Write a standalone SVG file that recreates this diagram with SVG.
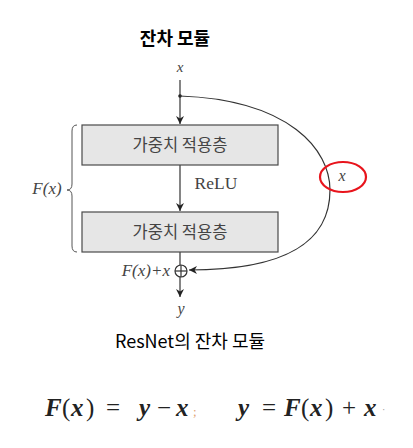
<svg xmlns="http://www.w3.org/2000/svg" width="413" height="448" viewBox="0 0 413 448">
<style>
.box{fill:#e6e6e6;stroke:#4a4a4a;stroke-width:1.2}
.kt{font-family:"Noto Sans CJK KR",serif;font-size:16.5px;fill:#444;text-anchor:middle}
.m{font-family:"Liberation Serif",serif;font-style:italic;fill:#444}
.ln{stroke:#333;stroke-width:1.2;fill:none}
.eq{font-family:"Liberation Serif",serif;font-style:italic;font-weight:bold;font-size:25px;fill:#222}
.op{font-family:"Liberation Serif",serif;font-size:25px;fill:#222}
</style>
<defs>
<marker id="ah" viewBox="0 0 10 10" refX="10" refY="5" markerWidth="8" markerHeight="8" orient="auto" markerUnits="userSpaceOnUse">
<path d="M0,0 L10,5 L0,10 L3,5 z" fill="#222"/>
</marker>
</defs>
<rect width="413" height="448" fill="#fff"/>
<text x="175" y="45" text-anchor="middle" font-family="Noto Sans CJK KR,sans-serif" font-weight="bold" font-size="18" fill="#000">잔차 모듈</text>
<text class="m" x="180" y="72" font-size="15" text-anchor="middle">x</text>
<g id="connectors">
<line class="ln" x1="180" y1="80" x2="180" y2="124" marker-end="url(#ah)"/>
<circle cx="180" cy="96" r="1.8" fill="#222"/>
<line class="ln" x1="180" y1="165" x2="180" y2="211" marker-end="url(#ah)"/>
<line class="ln" x1="180" y1="252" x2="180" y2="297" marker-end="url(#ah)"/>
<path class="ln" d="M180,96 C290,100 330,150 330,190 C330,240 290,270 189,270" marker-end="url(#ah)"/>
</g>
<g id="layer1">
<rect class="box" x="82" y="125" width="196" height="40"/>
<text class="kt" x="180" y="151">가중치 적용층</text>
</g>
<g id="relu"><text x="216" y="189" text-anchor="middle" font-family="Liberation Serif,serif" font-size="17.5" fill="#444">ReLU</text></g>
<g id="layer2">
<rect class="box" x="82" y="212" width="196" height="40"/>
<text class="kt" x="180" y="238">가중치 적용층</text>
</g>
<g id="sum">
<circle cx="181" cy="271" r="6" fill="#fff" stroke="#333" stroke-width="1.2"/>
<line class="ln" x1="175" y1="271" x2="187" y2="271"/>
<line class="ln" x1="181" y1="265" x2="181" y2="277"/>
<text class="m" x="170" y="276" font-size="17" text-anchor="end" font-style="normal"><tspan font-style="italic">F</tspan>(<tspan font-style="italic">x</tspan>)+<tspan font-style="italic">x</tspan></text>
</g>
<text class="m" x="181" y="314" font-size="16" text-anchor="middle">y</text>
<g id="brace">
<path d="M77,125 Q72,125 72,131 L72,184 Q72,190 67,190 Q72,190 72,196 L72,246 Q72,252 77,252" fill="none" stroke="#555" stroke-width="1"/>
<text class="m" x="47" y="194" font-size="17" text-anchor="middle" font-style="normal"><tspan font-style="italic">F</tspan>(<tspan font-style="italic">x</tspan>)</text>
</g>
<g id="xlabel">
<text class="m" x="342" y="181" font-size="16" text-anchor="middle">x</text>
<ellipse cx="343" cy="177" rx="23" ry="15" fill="none" stroke="#e8141c" stroke-width="2.2"/>
</g>
<text x="190" y="348" text-anchor="middle" font-family="Noto Sans CJK KR,sans-serif" font-size="18" fill="#000">ResNet의 잔차 모듈</text>
<g id="eq1">
<text class="eq" x="45" y="416">F</text>
<text class="op" x="62" y="416">(</text>
<text class="eq" x="71" y="416">x</text>
<text class="op" x="86" y="416">)</text>
<text class="op" x="106" y="416">=</text>
<text class="eq" x="139" y="416">y</text>
<text class="op" x="157" y="416">−</text>
<text class="eq" x="176" y="416">x</text>
<text x="193" y="416" font-family="Liberation Serif,serif" font-size="13" fill="#e0a070">;</text>
</g>
<g id="eq2">
<text class="eq" x="238" y="416">y</text>
<text class="op" x="262" y="416">=</text>
<text class="eq" x="284" y="416">F</text>
<text class="op" x="301" y="416">(</text>
<text class="eq" x="310" y="416">x</text>
<text class="op" x="325" y="416">)</text>
<text class="op" x="342" y="416">+</text>
<text class="eq" x="364" y="416">x</text>
<text x="382" y="413" font-family="Liberation Serif,serif" font-size="10" fill="#999">·</text>
</g>
</svg>
